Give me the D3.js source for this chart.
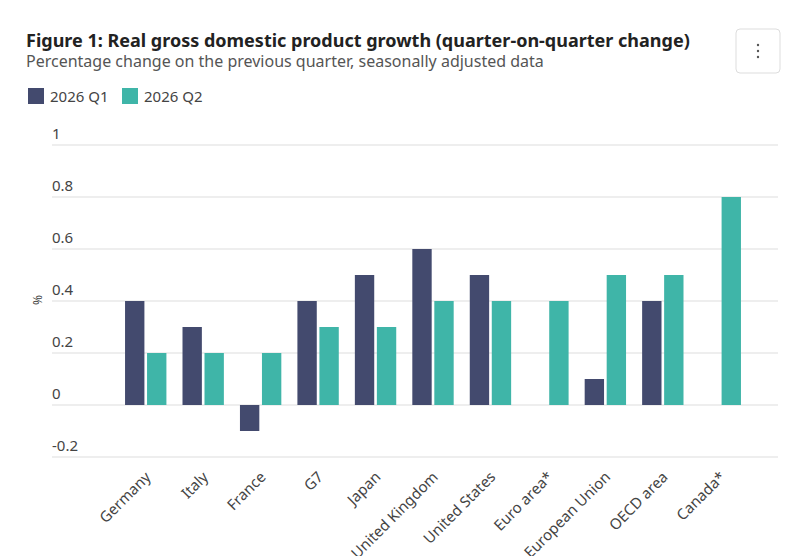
<!DOCTYPE html>
<html lang="en">
<head>
<meta charset="utf-8">
<script src="https://cdn.jsdelivr.net/npm/d3@7"></script>
<style>
body { margin: 0; background: #fff; }
svg { font-family: "Noto Sans", sans-serif; }
</style>
</head>
<body>
<script>
var categories = ["Germany", "Italy", "France", "G7", "Japan", "United Kingdom", "United States", "Euro area*", "European Union", "OECD area", "Canada*"];
var seriesNames = ["2026 Q1", "2026 Q2"];
var q1 = [0.4, 0.3, -0.1, 0.4, 0.5, 0.6, 0.5, null, 0.1, 0.4, null];
var q2 = [0.2, 0.2, 0.2, 0.3, 0.3, 0.4, 0.4, 0.4, 0.5, 0.5, 0.8];
var yTicks = [-0.2, 0, 0.2, 0.4, 0.6, 0.8, 1];
var colors = ["#434a6e", "#3fb5a8"];

var svg = d3.select("body").append("svg").attr("width", 800).attr("height", 556);

svg.append("text").attr("x", 26).attr("y", 47)
  .style("font-size", "18px").style("font-weight", "bold").attr("fill", "#222")
  .text("Figure 1: Real gross domestic product growth (quarter-on-quarter change)");
svg.append("text").attr("x", 26).attr("y", 67)
  .style("font-size", "16px").attr("fill", "#555")
  .text("Percentage change on the previous quarter, seasonally adjusted data");

// menu button
svg.append("rect").attr("x", 736).attr("y", 29).attr("width", 44).attr("height", 44).attr("rx", 4)
  .attr("fill", "#fff").attr("stroke", "#ddd");
[45, 51, 57].forEach(function(cy) {
  svg.append("circle").attr("cx", 758).attr("cy", cy).attr("r", 1.2).attr("fill", "#555");
});

// legend
seriesNames.forEach(function(n, i) {
  var lx = 28 + i * 94;
  svg.append("rect").attr("x", lx).attr("y", 88).attr("width", 16).attr("height", 16).attr("fill", colors[i]);
  svg.append("text").attr("x", lx + 22).attr("y", 102).style("font-size", "15px").attr("fill", "#444").text(n);
});

var y = d3.scaleLinear().domain([-0.2, 1]).range([457, 145]);
var x = d3.scaleBand().domain(categories).range([117, 749]).paddingInner(0.28).paddingOuter(0.14);
var xs = d3.scaleBand().domain([0, 1]).range([0, x.bandwidth()]).paddingInner(0.12);

var g = svg.append("g");
yTicks.forEach(function(t) {
  g.append("line").attr("x1", 52).attr("x2", 778).attr("y1", y(t)).attr("y2", y(t))
    .attr("stroke", "#ddd");
  g.append("text").attr("x", 52).attr("y", y(t) - 6).style("font-size", "15px").attr("fill", "#444")
    .text(String(t));
});
svg.append("text").attr("transform", "translate(42,300) rotate(-90)").attr("text-anchor", "middle")
  .style("font-size", "12px").attr("fill", "#444").text("%");

[q1, q2].forEach(function(series, si) {
  g.selectAll(".b" + si).data(categories.map(function(c, i) { return {c: c, v: series[i]}; })
    .filter(function(d) { return d.v !== null; }))
    .enter().append("rect")
    .attr("x", function(d) { return x(d.c) + xs(si); })
    .attr("width", xs.bandwidth())
    .attr("y", function(d) { return y(Math.max(0, d.v)); })
    .attr("height", function(d) { return Math.abs(y(d.v) - y(0)); })
    .attr("fill", colors[si]);
});

categories.forEach(function(c) {
  var cx = x(c) + x.bandwidth() / 2 + 6;
  svg.append("text").attr("transform", "translate(" + cx + ",478) rotate(-45)")
    .attr("text-anchor", "end").style("font-size", "15px").attr("fill", "#444").text(c);
});
</script>
</body>
</html>
